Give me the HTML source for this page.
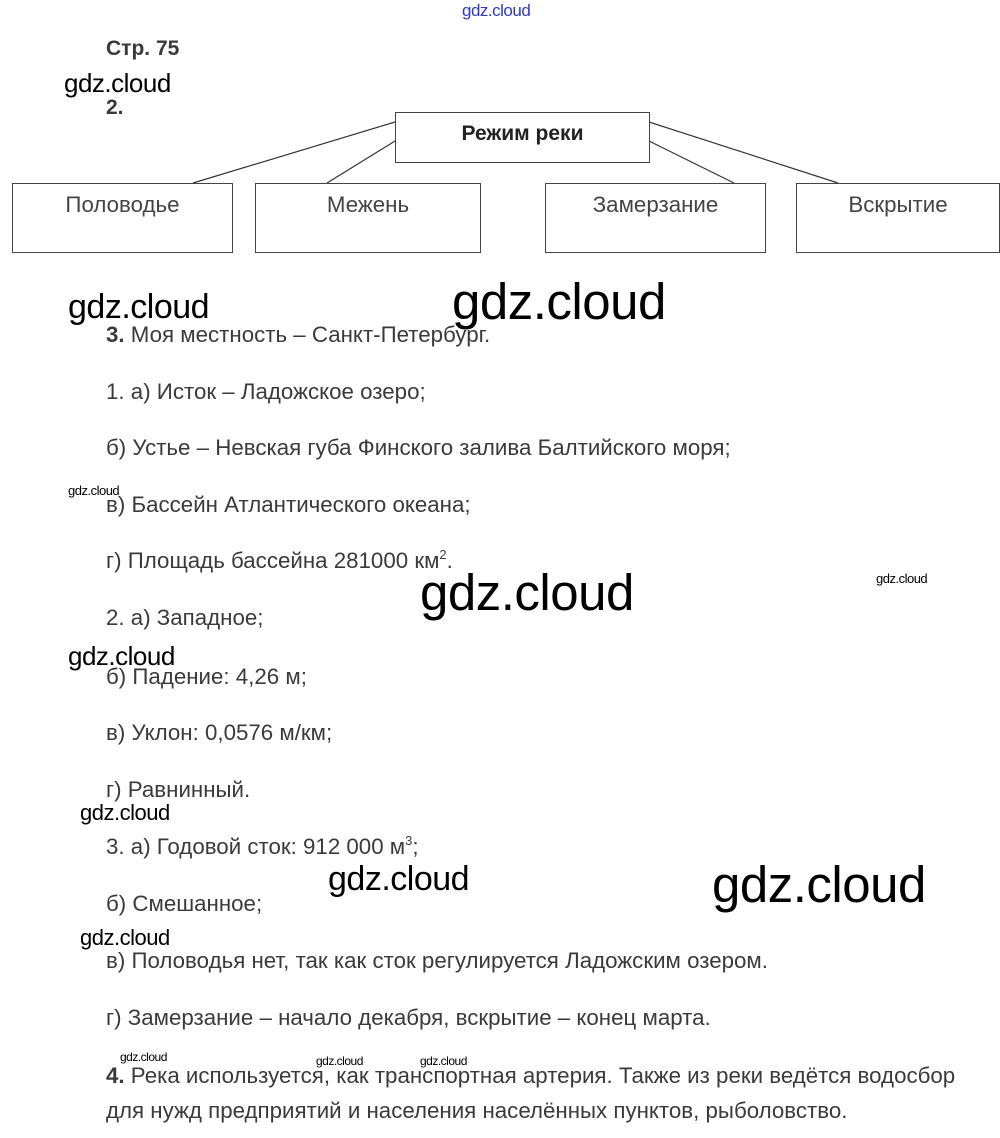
<!DOCTYPE html>
<html><head><meta charset="utf-8"><style>
body{margin:0;width:1000px;height:1138px;background:#fff;position:relative;overflow:hidden;font-family:"Liberation Sans","DejaVu Sans",sans-serif}
.t{position:absolute;font-size:22.3px;color:#3a3a3a;white-space:nowrap;line-height:24px}
.w{position:absolute;color:#000;white-space:nowrap;font-family:"Liberation Sans",sans-serif;letter-spacing:-0.5px;line-height:1}
.b{position:absolute;border:1px solid #444;box-sizing:border-box;text-align:center;font-size:22.3px;color:#444;padding-top:8px}
sup{font-size:13px;vertical-align:9px;line-height:0}
</style></head><body>
<div class="w" style="left:462px;top:2px;font-size:17px;color:#3038c0">gdz.cloud</div>
<div class="t" style="left:106px;top:37px;font-weight:bold;font-size:21px">Стр. 75</div>
<div class="w" style="left:64px;top:70px;font-size:26px">gdz.cloud</div>
<div class="t" style="left:106px;top:96px;font-weight:bold;font-size:21px">2.</div>
<svg style="position:absolute;left:0;top:0" width="1000" height="260">
<g stroke="#333" stroke-width="1.2" fill="none">
<line x1="395" y1="122" x2="193" y2="183"/><line x1="395" y1="141" x2="327" y2="183"/>
<line x1="649" y1="122" x2="838" y2="183"/><line x1="649" y1="141" x2="734" y2="183"/>
</g></svg>
<div class="b" style="left:395px;top:112px;width:255px;height:51px;font-weight:bold;color:#222;padding-top:9px;font-size:21px">Режим реки</div>
<div class="b" style="left:12px;top:183px;width:221px;height:70px">Половодье</div>
<div class="b" style="left:255px;top:183px;width:226px;height:70px">Межень</div>
<div class="b" style="left:545px;top:183px;width:221px;height:70px">Замерзание</div>
<div class="b" style="left:796px;top:183px;width:204px;height:70px">Вскрытие</div>
<div class="w" style="left:452px;top:276px;font-size:51px">gdz.cloud</div>
<div class="w" style="left:68px;top:290px;font-size:34px">gdz.cloud</div>
<div class="t" style="left:106px;top:323px"><b>3.</b> Моя местность – Санкт-Петербург.</div>
<div class="t" style="left:106px;top:380px">1. а) Исток – Ладожское озеро;</div>
<div class="t" style="left:106px;top:436px">б) Устье – Невская губа Финского залива Балтийского моря;</div>
<div class="w" style="left:68px;top:484px;font-size:13px">gdz.cloud</div>
<div class="t" style="left:106px;top:493px">в) Бассейн Атлантического океана;</div>
<div class="t" style="left:106px;top:549px">г) Площадь бассейна 281000 км<sup>2</sup>.</div>
<div class="w" style="left:420px;top:567px;font-size:51px">gdz.cloud</div>
<div class="w" style="left:876px;top:572px;font-size:13px">gdz.cloud</div>
<div class="t" style="left:106px;top:606px">2. а) Западное;</div>
<div class="w" style="left:68px;top:643px;font-size:26px">gdz.cloud</div>
<div class="t" style="left:106px;top:665px">б) Падение: 4,26 м;</div>
<div class="t" style="left:106px;top:721px">в) Уклон: 0,0576 м/км;</div>
<div class="t" style="left:106px;top:778px">г) Равнинный.</div>
<div class="w" style="left:80px;top:802px;font-size:22px">gdz.cloud</div>
<div class="t" style="left:106px;top:835px">3. а) Годовой сток: 912 000 м<sup>3</sup>;</div>
<div class="w" style="left:328px;top:862px;font-size:34px">gdz.cloud</div>
<div class="w" style="left:712px;top:859px;font-size:51px">gdz.cloud</div>
<div class="t" style="left:106px;top:892px">б) Смешанное;</div>
<div class="w" style="left:80px;top:927px;font-size:22px">gdz.cloud</div>
<div class="t" style="left:106px;top:949px">в) Половодья нет, так как сток регулируется Ладожским озером.</div>
<div class="t" style="left:106px;top:1006px">г) Замерзание – начало декабря, вскрытие – конец марта.</div>
<div class="w" style="left:120px;top:1051px;font-size:12px">gdz.cloud</div>
<div class="w" style="left:316px;top:1055px;font-size:12px">gdz.cloud</div>
<div class="w" style="left:420px;top:1055px;font-size:12px">gdz.cloud</div>
<div class="t" style="left:106px;top:1064px"><b>4.</b> Река используется, как транспортная артерия. Также из реки ведётся водосбор</div>
<div class="t" style="left:106px;top:1099px">для нужд предприятий и населения населённых пунктов, рыболовство.</div>
</body></html>
